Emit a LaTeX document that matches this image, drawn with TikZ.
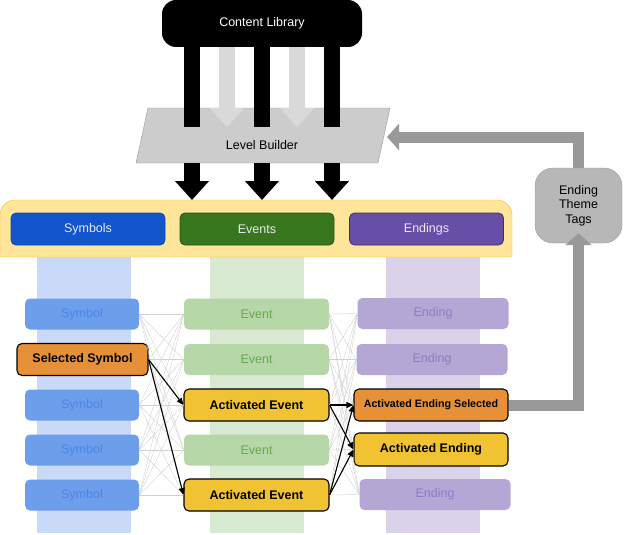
\documentclass[tikz,border=0pt]{standalone}
\usepackage{fontspec}
\setmainfont{Liberation Sans}
\usetikzlibrary{arrows.meta}

\definecolor{symfill}{HTML}{6D9EEB}
\definecolor{symtext}{HTML}{4A86E8}
\definecolor{evfill}{HTML}{B6D7A8}
\definecolor{evtext}{HTML}{6AA84F}
\definecolor{endfill}{HTML}{B4A7D6}
\definecolor{endtext}{HTML}{8E7CC3}
\definecolor{selorange}{HTML}{E69138}
\definecolor{actyellow}{HTML}{F1C232}
\definecolor{symstrip}{HTML}{C9DAF8}
\definecolor{evstrip}{HTML}{D9EAD3}
\definecolor{endstrip}{HTML}{D9D2E9}
\definecolor{hdrblue}{HTML}{1155CC}
\definecolor{hdrgreen}{HTML}{38761D}
\definecolor{hdrpurple}{HTML}{674EA7}
\definecolor{contfill}{HTML}{FFE599}
\definecolor{contborder}{HTML}{F1C232}
\definecolor{lbgray}{HTML}{CCCCCC}
\definecolor{fbgray}{HTML}{999999}
\definecolor{lightarrow}{HTML}{D9D9D9}
\definecolor{tagsgray}{HTML}{B7B7B7}

\begin{document}
\begin{tikzpicture}[x=1pt, y=-1pt,
		font=\fontsize{12.5}{15}\selectfont,
		box/.style={rounded corners=5pt, inner sep=0pt, minimum height=31pt},
		symbolbox/.style={box, fill=symfill, text=symtext, minimum width=114pt},
		eventbox/.style={box, fill=evfill, text=evtext, minimum width=145pt},
		endingbox/.style={box, fill=endfill, text=endtext, minimum width=151pt},
		hotbox/.style={box, draw=black, line width=1.1pt, font=\fontsize{12.5}{15}\selectfont\bfseries, minimum height=32pt},
		header/.style={box, text=white!92!black, minimum width=154pt, minimum height=32pt, line width=0.8pt},
		fan/.style={draw=black!18, line width=0.4pt},
		flow/.style={-{Triangle[length=7pt,width=6pt]}, line width=1.1pt},
		bigdown/.style={line width=16pt},
		bighead/.style={bigdown, -{Triangle[width=33pt,length=19pt]}},
		feedback/.style={draw=fbgray, line width=11pt, line join=miter, -{Triangle[width=26pt,length=12pt]}}]
		\useasboundingbox (0,0) rectangle (624,535);
		
		\fill[symstrip] (37,257) rectangle (131,533);
		\fill[evstrip] (210,257) rectangle (304,533);
		\fill[endstrip] (386,257) rectangle (480,533);
		
		\draw[draw=contborder, fill=contfill] (0,257) [rounded corners=15pt] -- (0,200) -- (512,200) [sharp corners] -- (512,257) -- cycle;
		
		\node[header, fill=hdrblue, draw=hdrblue!85!black] (hsym) at (88,229) {Symbols};
		\node[header, fill=hdrgreen, draw=hdrgreen!70!black] (hev) at (257,229) {Events};
		\node[header, fill=hdrpurple, draw=hdrpurple!60!black] (hend) at (426.5,229) {Endings};
		
		\node[fill=black, text=white, rounded corners=14pt, minimum width=200pt, minimum height=47pt, inner sep=0pt] (cl) at (262,23.5) {Content Library};
		
		\draw[draw=fbgray, fill=lbgray] (148,108) -- (390,108) -- (378,163) -- (136,163) -- cycle;
		\node (lb) at (262,145) {Level Builder};
		\coordinate (lbin) at (387,137);
		\coordinate (lbbot) at (262,163);
		
		\foreach \dx in {-70,0,70}
			\draw[bigdown, black] ([xshift=\dx pt]cl.south) -- ([xshift=\dx pt, yshift=-80pt]cl.south);
		\foreach \dx in {-35,35}
			\draw[bighead, draw=lightarrow, fill=lightarrow] ([xshift=\dx pt]cl.south) -- ([xshift=\dx pt, yshift=-80pt]cl.south);
		\foreach \dx in {-70,0,70}
			\draw[bighead, black] ([xshift=\dx pt]lbbot) -- ([xshift=\dx pt, yshift=-37pt]lbbot);
		
		\node[symbolbox] (s1) at (82,314) {Symbol};
		\node[hotbox, fill=selorange, minimum width=131pt] (s2) at (82.5,359.5) {Selected Symbol};
		\node[symbolbox] (s3) at (82,405) {Symbol};
		\node[symbolbox] (s4) at (82,450) {Symbol};
		\node[symbolbox] (s5) at (82,495) {Symbol};
		
		\node[eventbox] (e1) at (256.5,314) {Event};
		\node[eventbox] (e2) at (256.5,359.5) {Event};
		\node[hotbox, fill=actyellow, minimum width=145pt] (e3) at (256.5,405) {Activated Event};
		\node[eventbox] (e4) at (256.5,450) {Event};
		\node[hotbox, fill=actyellow, minimum width=145pt] (e5) at (256.5,495) {Activated Event};
		
		\node[endingbox] (n1) at (433,313.5) {Ending};
		\node[endingbox] (n2) at (432,359.5) {Ending};
		\node[hotbox, fill=selorange, minimum width=154pt, font=\fontsize{10.7}{13}\selectfont\bfseries] (n3) at (431,405) {Activated Ending Selected};
		\node[hotbox, fill=actyellow, minimum width=154pt, minimum height=33pt] (n4) at (431,449.5) {Activated Ending};
		\node[endingbox] (n5) at (435,494.5) {Ending};
		
		\foreach \a in {1,...,5}
			\foreach \b in {1,...,5} {
				\draw[fan] (s\a.east) -- (e\b.west);
				\draw[fan] (e\a.east) -- (n\b.west);
			}
		
		\draw[flow] (s2.east) -- (e3.west);
		\draw[flow] (s2.east) -- (e5.west);
		\draw[flow] (e3.east) -- (n3.west);
		\draw[flow] (e3.east) -- (n4.west);
		\draw[flow] (e5.east) -- (n3.west);
		\draw[flow] (e5.east) -- (n4.west);
		
		\node[draw=fbgray, fill=tagsgray, rounded corners=18pt, minimum width=87pt, minimum height=75pt, inner sep=0pt, align=center, font=\fontsize{12.5}{14.5}\selectfont] (tags) at (578.5,205.5) {Ending\\Theme\\Tags};
		
		\draw[feedback] (n3.east) -| ([yshift=10pt]tags.south);
		\draw[feedback] (tags.north) |- (lbin);
	\end{tikzpicture}
\end{document}
